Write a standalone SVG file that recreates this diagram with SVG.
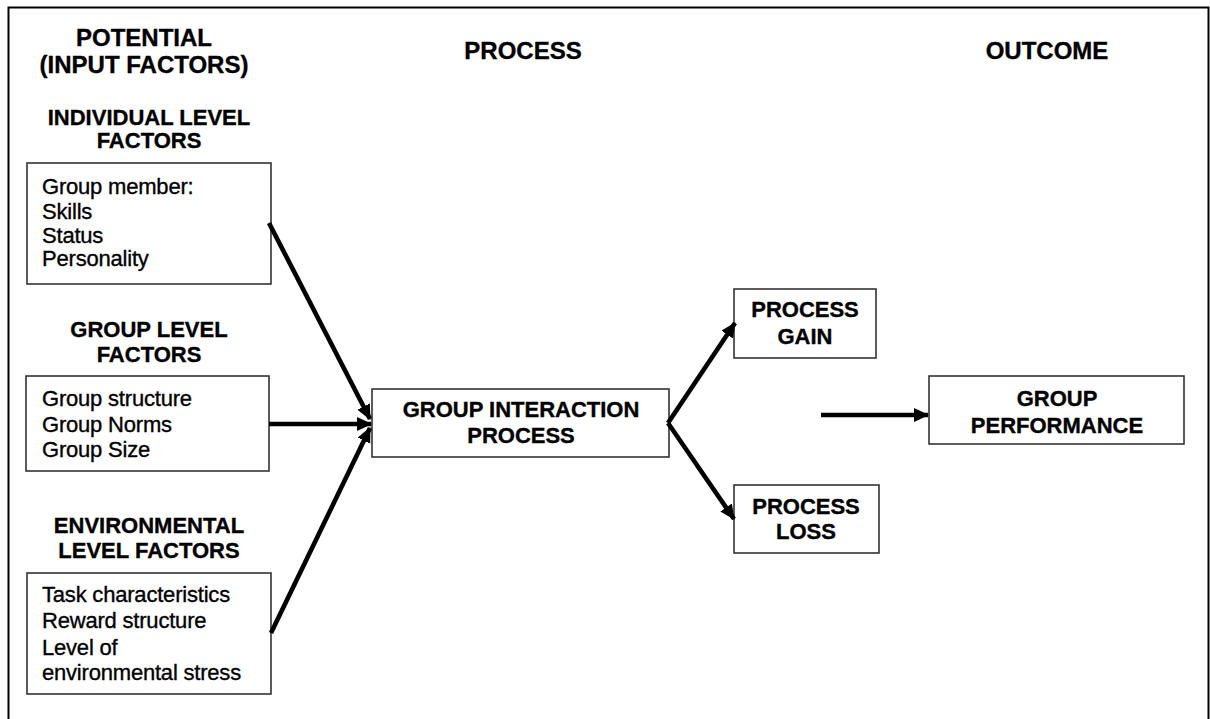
<svg xmlns="http://www.w3.org/2000/svg" width="1210" height="719" viewBox="0 0 1210 719">
<defs>
<style>
text{font-family:"Liberation Sans",Arial,sans-serif;fill:#000;stroke:#000;stroke-width:0.35}
.h1{font-size:24px;font-weight:bold;text-anchor:middle}
.h2{font-size:22px;font-weight:bold;text-anchor:middle}
.b{font-size:22px;letter-spacing:-0.2px}
.box{fill:#fff;stroke:#333;stroke-width:1.6}
.conn line{stroke:#000;stroke-width:4.6;marker-end:url(#ah)}
</style>
<marker id="ah" markerUnits="userSpaceOnUse" markerWidth="18" markerHeight="16" refX="14" refY="7" orient="auto">
<path d="M0,0 L15,7 L0,14 Z" fill="#000"/>
</marker>
</defs>
<rect x="0" y="0" width="1210" height="719" fill="#fff"/>
<rect x="8.5" y="7.5" width="1200" height="720" fill="none" stroke="#000" stroke-width="2"/>

<g id="headers">
<text class="h1" x="144" y="46">POTENTIAL</text>
<text class="h1" x="144" y="73">(INPUT FACTORS)</text>
<text class="h1" x="523" y="59">PROCESS</text>
<text class="h1" x="1047" y="59">OUTCOME</text>
<text class="h2" x="149" y="125">INDIVIDUAL LEVEL</text>
<text class="h2" x="149" y="148">FACTORS</text>
<text class="h2" x="149" y="337">GROUP LEVEL</text>
<text class="h2" x="149" y="362">FACTORS</text>
<text class="h2" x="149" y="533">ENVIRONMENTAL</text>
<text class="h2" x="149" y="558">LEVEL FACTORS</text>
</g>

<g id="individual">
<rect class="box" x="27" y="163" width="244" height="121"/>
<text class="b" x="42" y="194">Group member:</text>
<text class="b" x="42" y="219">Skills</text>
<text class="b" x="42" y="243">Status</text>
<text class="b" x="42" y="266">Personality</text>
</g>

<g id="group">
<rect class="box" x="26" y="376" width="243" height="95"/>
<text class="b" x="42" y="406">Group structure</text>
<text class="b" x="42" y="432">Group Norms</text>
<text class="b" x="42" y="457">Group Size</text>
</g>

<g id="environmental">
<rect class="box" x="27" y="573" width="244" height="121"/>
<text class="b" x="42" y="602">Task characteristics</text>
<text class="b" x="42" y="628">Reward structure</text>
<text class="b" x="42" y="655">Level of</text>
<text class="b" x="42" y="680">environmental stress</text>
</g>

<g id="interaction">
<rect class="box" x="372" y="389" width="297" height="68"/>
<text class="h2" x="521" y="417">GROUP INTERACTION</text>
<text class="h2" x="521" y="443">PROCESS</text>
</g>

<g id="gain">
<rect class="box" x="734" y="289" width="142" height="69"/>
<text class="h2" x="805" y="317">PROCESS</text>
<text class="h2" x="805" y="344">GAIN</text>
</g>

<g id="loss">
<rect class="box" x="734" y="485" width="145" height="68"/>
<text class="h2" x="806" y="514">PROCESS</text>
<text class="h2" x="806" y="539">LOSS</text>
</g>

<g id="performance">
<rect class="box" x="929" y="376" width="255" height="68"/>
<text class="h2" x="1057" y="406">GROUP</text>
<text class="h2" x="1057" y="433">PERFORMANCE</text>
</g>

<g id="connectors" class="conn">
<line x1="269" y1="223" x2="370" y2="419"/>
<line x1="269" y1="424" x2="371" y2="424"/>
<line x1="271" y1="633" x2="370" y2="428"/>
<line x1="668" y1="423" x2="735" y2="323"/>
<line x1="668" y1="423" x2="734" y2="519"/>
<line x1="821" y1="415" x2="928" y2="415"/>
</g>
</svg>
